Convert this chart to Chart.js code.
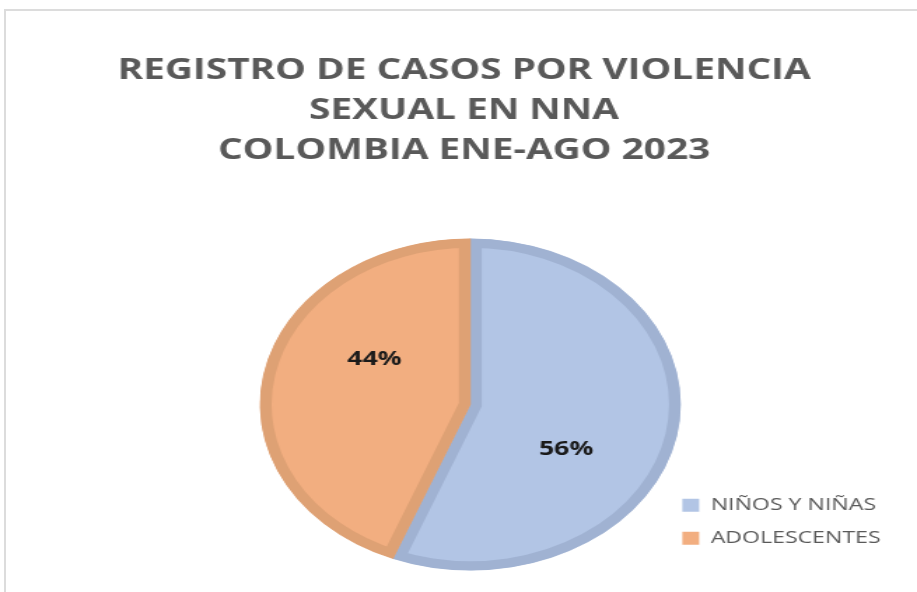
<!DOCTYPE html>
<html>
<head>
<meta charset="utf-8">
<script src="https://cdn.jsdelivr.net/npm/chart.js@4/dist/chart.umd.min.js"></script>
<style>
  html, body { margin: 0; padding: 0; background: #ffffff; width: 917px; height: 592px; overflow: hidden; }
  #frame { position: absolute; left: 4px; top: 9px; width: 940px; height: 620px;
           border-top: 2px solid #dcdcdc; border-left: 2px solid #dcdcdc; box-sizing: border-box; }
  #wrap { position: absolute; left: 0; top: 0; width: 655px; height: 592px;
          transform: scaleX(1.4); transform-origin: 0 0; }
  canvas { display: block; }
</style>
</head>
<body>
<div id="frame"></div>
<div id="wrap"><canvas id="c" width="655" height="592" style="width:655px;height:592px"></canvas></div>
<script>
// ---- data ----
const titleLines = ['REGISTRO DE CASOS POR VIOLENCIA', 'SEXUAL EN NNA', 'COLOMBIA ENE-AGO 2023'];
const categories = ['NIÑOS Y NIÑAS', 'ADOLESCENTES'];
const percentages = [56, 44];

// ---- styles ----
const fillColors = ['#b2c5e5', '#f2ae80'];
const borderColors = ['#a0b2d2', '#dea174'];
const pieXScale = 0.906;       // horizontal squash of the pie (picture is stretched)
const labelAngleShift = 20 * Math.PI / 180;
const labelRadius = 0.53;

Chart.defaults.font.family = "'Open Sans', sans-serif";

const ellipsePie = {
  id: 'ellipsePie',
  beforeDatasetsDraw(chart) {
    const arc = chart.getDatasetMeta(0).data[0];
    const ctx = chart.ctx;
    ctx.save();
    ctx.translate(arc.x, 0);
    ctx.scale(pieXScale, 1);
    ctx.translate(-arc.x, 0);
  },
  afterDatasetsDraw(chart) {
    const ctx = chart.ctx;
    ctx.restore();
    const meta = chart.getDatasetMeta(0);
    const data = chart.data.datasets[0].data;
    const total = data.reduce((a, b) => a + b, 0);
    ctx.save();
    ctx.font = "bold 19px 'Open Sans', sans-serif";
    ctx.fillStyle = '#1a1a1a';
    ctx.textAlign = 'center';
    ctx.textBaseline = 'middle';
    meta.data.forEach((arc, i) => {
      const p = arc.getProps(['x', 'y', 'startAngle', 'endAngle', 'outerRadius'], true);
      const a = (p.startAngle + p.endAngle) / 2 + labelAngleShift;
      const r = p.outerRadius * labelRadius;
      const x = p.x + Math.cos(a) * r * pieXScale;
      const y = p.y + Math.sin(a) * r;
      ctx.fillText(Math.round(data[i] / total * 100) + '%', x, y);
    });
    ctx.restore();
  }
};

new Chart(document.getElementById('c'), {
  type: 'pie',
  data: {
    labels: categories,
    datasets: [{
      data: percentages,
      backgroundColor: fillColors,
      borderColor: borderColors,
      borderWidth: 9,
      borderAlign: 'inner',
      borderJoinStyle: 'miter',
      clip: false
    }]
  },
  options: {
    responsive: false,
    animation: false,
    radius: 166,
    layout: { padding: { left: 24, right: 16, top: 0, bottom: 29 } },
    scales: {
      spacer: {
        type: 'linear',
        position: 'left',
        display: true,
        ticks: { display: false },
        grid: { display: false },
        border: { display: false },
        afterFit: (s) => { s.width = 177; }
      }
    },
    plugins: {
      tooltip: { enabled: false },
      title: {
        display: true,
        text: titleLines,
        color: '#595959',
        font: { size: 27.7, weight: 'bold', lineHeight: '40px' },
        padding: { top: 51, bottom: 75 }
      },
      legend: {
        position: 'right',
        align: 'end',
        maxWidth: 220,
        labels: {
          color: '#595959',
          font: { size: 16.5 },
          boxWidth: 12,
          boxHeight: 13,
          padding: 16.5,
          generateLabels: (chart) => {
            const items = Chart.overrides.pie.plugins.legend.labels.generateLabels(chart);
            return items.map(it => Object.assign(it, { lineWidth: 0 }));
          }
        }
      }
    }
  },
  plugins: [ellipsePie]
});
</script>
</body>
</html>
